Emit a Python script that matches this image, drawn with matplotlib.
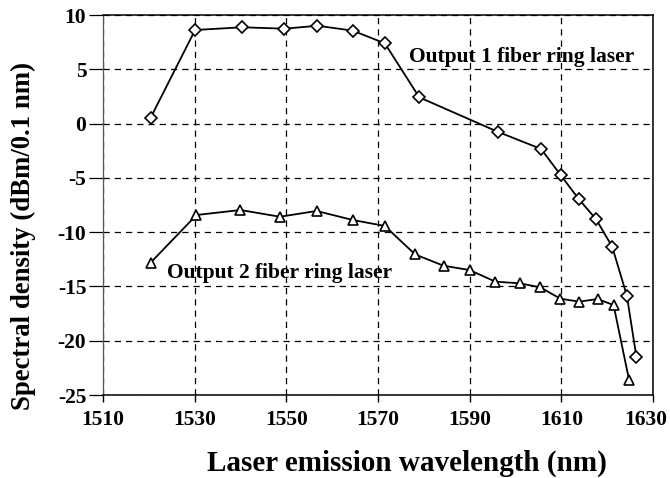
import matplotlib
matplotlib.use("Agg")
import matplotlib.pyplot as plt
from matplotlib.transforms import ScaledTranslation

# Output 1 (diamonds)
wl1 = [1520.4, 1530.1, 1540.4, 1549.6, 1556.8, 1564.5, 1571.5, 1579.0, 1596.1,
       1605.6, 1609.9, 1613.8, 1617.6, 1621.1, 1624.3, 1626.4]
p1 = [0.54, 8.62, 8.87, 8.74, 9.01, 8.56, 7.39, 2.42, -0.75,
      -2.34, -4.77, -6.95, -8.82, -11.34, -15.85, -21.53]

# Output 2 (triangles)
wl2 = [1520.4, 1530.4, 1540.0, 1548.6, 1556.6, 1564.5, 1571.5, 1578.1, 1584.3,
       1590.0, 1595.6, 1600.9, 1605.4, 1609.8, 1613.9, 1617.9, 1621.4, 1624.8]
p2 = [-12.81, -8.42, -7.96, -8.58, -8.05, -8.88, -9.43, -12.05, -13.09,
      -13.49, -14.56, -14.71, -15.08, -16.13, -16.40, -16.16, -16.71, -23.65]

xticks = [1510, 1530, 1550, 1570, 1590, 1610, 1630]
yticks = [-25, -20, -15, -10, -5, 0, 5, 10]

plt.rcParams['font.family'] = ['Liberation Serif', 'DejaVu Serif']
plt.rcParams['font.weight'] = 'bold'

fig = plt.figure(figsize=(6.7, 4.78), dpi=100)
ax = fig.add_axes([0.1537, 0.1736, 0.8209, 0.795])

ax.plot(wl1, p1, color='black', lw=1.3, marker='D', ms=6.3, mfc='white',
        mec='black', mew=1.2, zorder=3)
ax.plot(wl2, p2, color='black', lw=1.3, marker='^', ms=7.5, mfc='white',
        mec='black', mew=1.2, zorder=3)

ax.set_xlim(1510, 1630)
ax.set_ylim(-25, 10)
ax.set_xticks(xticks)
ax.set_yticks(yticks)
ax.set_xticklabels([str(v) for v in xticks], fontsize=15.5, fontweight='bold')
ax.set_yticklabels([str(v) for v in yticks], fontsize=15.5, fontweight='bold')
ax.tick_params(axis='x', direction='out', length=5, width=1, pad=6)
ax.tick_params(axis='y', direction='out', length=10, width=0.9, pad=2)

# shift the last x tick label left so it fits, as in the reference
last = ax.get_xticklabels()[-1]
last.set_transform(last.get_transform() + ScaledTranslation(-0.07, 0, fig.dpi_scale_trans))

ax.grid(True, color='black', linestyle=(0, (5, 4)), linewidth=0.9)
for s in ax.spines.values():
    s.set_color('black')
    s.set_linewidth(1.1)
ax.spines['left'].set_color('#555555')
ax.spines['left'].set_linewidth(0.9)

ax.set_xlabel('Laser emission wavelength (nm)', fontsize=21, fontweight='bold', va='center')
ax.xaxis.set_label_coords(0.552, -0.179)
ax.set_ylabel('Spectral density (dBm/0.1 nm)', fontsize=19.3, fontweight='bold', va='center')
ax.yaxis.set_label_coords(-0.145, 0.418)

ax.text(1601.4, 6.13, 'Output 1 fiber ring laser', fontsize=15.5, fontweight='bold',
        ha='center', va='center')
ax.text(1523.9, -13.73, 'Output 2 fiber ring laser', fontsize=15.5, fontweight='bold',
        ha='left', va='center')

fig.savefig('out.png', dpi=100)
